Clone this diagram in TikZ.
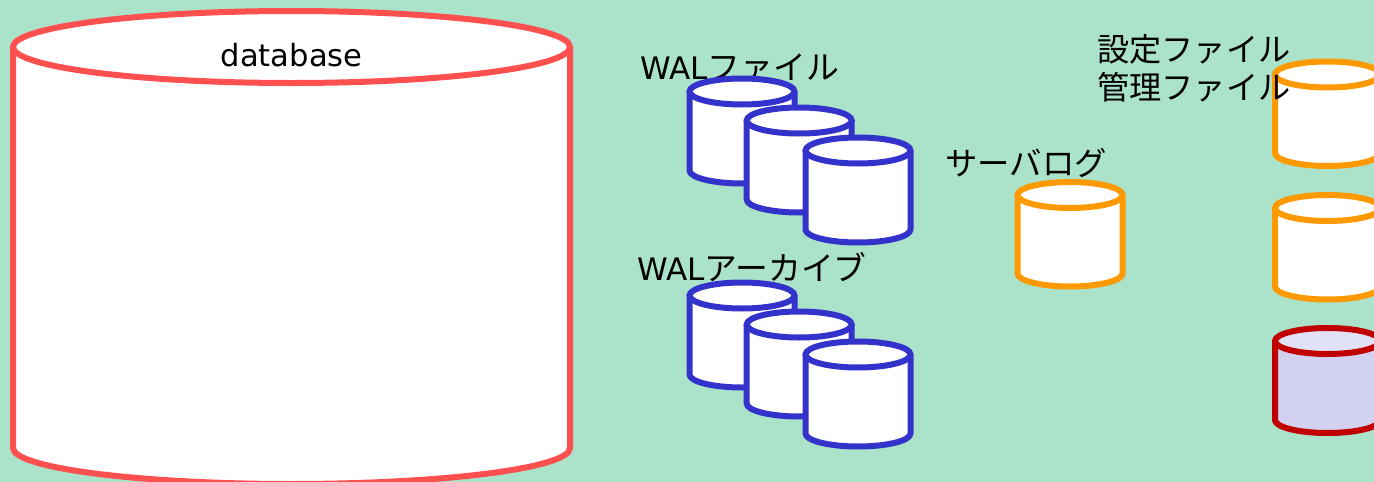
\documentclass[tikz,border=0pt]{standalone}
\usepackage{fontspec}
\setmainfont{DejaVu Sans}
\newfontfamily\cjk{Noto Sans CJK JP}
\definecolor{bgc}{HTML}{ABE2CA}
\definecolor{redc}{HTML}{FF5050}
\definecolor{bluec}{HTML}{3333CC}
\definecolor{orangec}{HTML}{FF9900}
\definecolor{darkc}{HTML}{C00000}
\definecolor{lavc}{HTML}{D2D2F0}
\definecolor{lavt}{HTML}{E2E2F6}
% #1 style options, #2 cx, #3 top centre y, #4 rx, #5 ry, #6 bottom centre y, #7 body fill, #8 top fill
\newcommand{\dbcyl}[8]{%
  \draw[#1,fill=#7,line join=round] (#2-#4,#3) -- (#2-#4,#6) arc[start angle=180,end angle=0,x radius=#4,y radius=#5] -- (#2+#4,#3);
  \draw[#1,fill=#8] (#2,#3) ellipse[x radius=#4,y radius=#5];
}
\tikzset{
  lab/.style={anchor=base west,inner sep=0pt,text=black,font=\fontsize{32.2}{32}\selectfont},
  lw/.style={line width=6pt},
  redcyl/.style={lw,draw=redc},
  bluecyl/.style={lw,draw=bluec},
  orcyl/.style={lw,draw=orangec},
  dkcyl/.style={lw,draw=darkc},
}
\begin{document}
\begin{tikzpicture}[x=1pt,y=-1pt]
\useasboundingbox (0,0) rectangle (1374,482);
\clip (0,0) rectangle (1374,482);
\fill[bgc] (0,0) rectangle (1374,482);
\dbcyl{redcyl}{291.5}{47}{278.5}{36}{448}{white}{white}
\node[lab,font=\fontsize{30.6}{30}\selectfont] (dbl) at (220.5,66) {database};
\node[lab] (wal) at (640,79) {\fontsize{31}{30}\selectfont WAL\cjk\fontsize{32.8}{32}\selectfont ファイル};
\node[lab] (arc) at (637,280) {\fontsize{31}{30}\selectfont WAL\cjk\fontsize{32.8}{32}\selectfont アーカイブ};
\foreach \cx/\ty in {742/91.5,799.2/120.5,858/150.5,742/295.5,799.2/324.5,858/354.5}
  {\pgfmathsetmacro{\by}{\ty+79}\dbcyl{bluecyl}{\cx}{\ty}{52.5}{13}{\by}{white}{white}}
\dbcyl{orcyl}{1070}{195}{52.5}{13}{273.5}{white}{white}
\dbcyl{orcyl}{1327.5}{74.5}{52.5}{13}{153}{white}{white}
\dbcyl{orcyl}{1327.5}{208}{52.5}{13}{286.5}{white}{white}
\dbcyl{dkcyl}{1327.5}{341}{52.5}{13}{420}{lavc}{lavt}
\node[lab] (log) at (945,175) {\cjk\fontsize{32.4}{32}\selectfont サーバログ};
\node[lab] (cfg) at (1097,61) {\cjk 設定ファイル};
\node[lab] (mgr) at (1097,99) {\cjk 管理ファイル};
\end{tikzpicture}
\end{document}
